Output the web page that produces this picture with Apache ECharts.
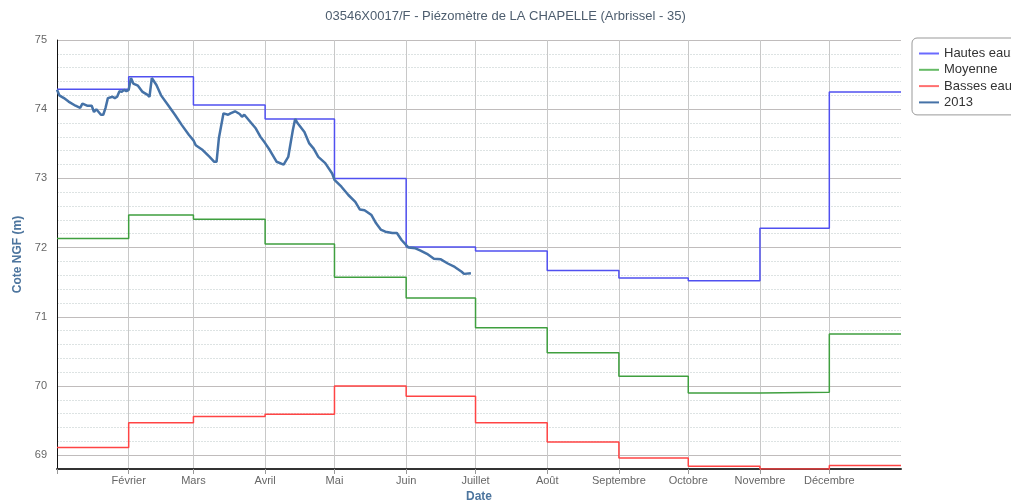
<!DOCTYPE html>
<html>
<head>
<meta charset="utf-8">
<script src="https://cdn.jsdelivr.net/npm/echarts@6/dist/echarts.min.js"></script>
<style>html,body{margin:0;padding:0;background:#fff}#c{width:1011px;height:502px}</style>
</head>
<body>
<div id="c"></div>
<script>
// ---- data ----
const monthStarts = ['2013-01-01','2013-02-01','2013-03-01','2013-04-01','2013-05-01','2013-06-01','2013-07-01','2013-08-01','2013-09-01','2013-10-01','2013-11-01','2013-12-01'];
const monthLabels = ['', 'Février','Mars','Avril','Mai','Juin','Juillet','Août','Septembre','Octobre','Novembre','Décembre'];
const yearEnd = '2014-01-01';
const hautesEaux = [74.29, 74.47, 74.06, 73.86, 73.00, 72.01, 71.95, 71.67, 71.56, 71.52, 72.28, 74.25];
const moyenne    = [72.13, 72.47, 72.41, 72.05, 71.57, 71.27, 70.84, 70.48, 70.14, 69.90, 69.91, 70.75];
const bassesEaux = [69.11, 69.47, 69.56, 69.59, 70.00, 69.85, 69.47, 69.19, 68.96, 68.84, 68.80, 68.85];
const dates2013 = ['2013-01-01','2013-01-02','2013-01-04','2013-01-06','2013-01-09','2013-01-11','2013-01-12','2013-01-14','2013-01-16','2013-01-17','2013-01-18','2013-01-20','2013-01-21','2013-01-22','2013-01-23','2013-01-25','2013-01-26','2013-01-27','2013-01-28','2013-01-29','2013-01-30','2013-01-31','2013-02-01','2013-02-02','2013-02-03','2013-02-05','2013-02-07','2013-02-09','2013-02-10','2013-02-11','2013-02-13','2013-02-15','2013-02-18','2013-02-21','2013-02-24','2013-02-27','2013-03-01','2013-03-02','2013-03-05','2013-03-08','2013-03-10','2013-03-11','2013-03-12','2013-03-14','2013-03-16','2013-03-17','2013-03-19','2013-03-21','2013-03-22','2013-03-23','2013-03-25','2013-03-28','2013-03-30','2013-04-01','2013-04-03','2013-04-06','2013-04-09','2013-04-11','2013-04-13','2013-04-14','2013-04-15','2013-04-18','2013-04-20','2013-04-22','2013-04-24','2013-04-27','2013-04-30','2013-05-01','2013-05-04','2013-05-07','2013-05-10','2013-05-12','2013-05-14','2013-05-17','2013-05-19','2013-05-21','2013-05-23','2013-05-26','2013-05-28','2013-05-30','2013-06-02','2013-06-05','2013-06-07','2013-06-10','2013-06-13','2013-06-16','2013-06-19','2013-06-22','2013-06-25','2013-06-26','2013-06-29'];
const values2013 = [74.28,74.20,74.16,74.11,74.05,74.02,74.08,74.05,74.05,73.96,74.00,73.92,73.92,74.02,74.16,74.18,74.16,74.18,74.26,74.25,74.28,74.26,74.28,74.45,74.37,74.34,74.25,74.21,74.18,74.45,74.35,74.20,74.06,73.92,73.77,73.63,73.55,73.48,73.41,73.31,73.24,73.24,73.58,73.94,73.92,73.94,73.97,73.93,73.89,73.92,73.84,73.72,73.60,73.51,73.41,73.24,73.20,73.31,73.70,73.86,73.80,73.67,73.51,73.43,73.31,73.22,73.07,72.98,72.88,72.76,72.66,72.55,72.54,72.47,72.35,72.26,72.23,72.21,72.21,72.11,72.00,71.99,71.96,71.91,71.84,71.83,71.77,71.72,71.65,71.62,71.63];
const yMajorTicks = [69, 70, 71, 72, 73, 74, 75];

// ---- build ----
const ts = d => Date.parse(d + 'T00:00:00Z');
const stepData = vals => {
  const arr = monthStarts.map((m, i) => [ts(m), vals[i]]);
  arr.push([ts(yearEnd), vals[vals.length - 1]]);
  return arr;
};
const monthTs = monthStarts.map(ts);

const chart = echarts.init(document.getElementById('c'), null, {renderer: 'canvas'});
const font = 'Liberation Sans, Arial, sans-serif';
chart.setOption({
  animation: false,
  textStyle: {fontFamily: font},
  title: {
    text: '03546X0017/F - Piézomètre de LA CHAPELLE (Arbrissel - 35)',
    left: 'center', top: 5,
    textStyle: {fontSize: 13, fontWeight: 'normal', color: '#4d5d6e', fontFamily: font}
  },
  legend: {
    orient: 'vertical', left: 912, top: 38,
    padding: [9, 30, 6, 7], itemGap: 3.3,
    borderColor: '#999', borderWidth: 1, borderRadius: 5,
    icon: 'rect', itemWidth: 20, itemHeight: 2,
    textStyle: {fontSize: 13, color: '#333', fontFamily: font},
    data: ['Hautes eaux', 'Moyenne', 'Basses eaux', '2013']
  },
  grid: {left: 57, right: 110, top: 40, bottom: 33, outerBoundsMode: 'none'},
  xAxis: {
    type: 'value',
    min: ts(monthStarts[0]), max: ts(yearEnd),
    name: 'Date', nameLocation: 'middle', nameGap: 19,
    nameTextStyle: {color: '#4d759e', fontWeight: 'bold', fontSize: 12},
    axisLine: {lineStyle: {color: '#333', width: 2}},
    axisTick: {customValues: monthTs, length: 5, lineStyle: {color: '#999'}},
    axisLabel: {
      customValues: monthTs, color: '#666', fontSize: 11, margin: 6,
      formatter: v => monthLabels[new Date(v).getUTCMonth()]
    },
    splitLine: {show: true, lineStyle: {color: '#c8c8c8', width: 1}}
  },
  yAxis: [{
    type: 'value', min: 68.8, max: 75, interval: 0.2,
    axisLine: {show: false}, axisTick: {show: false}, axisLabel: {show: false},
    splitLine: {show: true, lineStyle: {color: '#dde3e3', type: [2, 1], width: 1}}
  }, {
    type: 'value', min: 68.8, max: 75, position: 'left',
    name: 'Cote NGF (m)', nameLocation: 'middle', nameGap: 31, nameRotate: 90,
    nameTextStyle: {color: '#4d759e', fontWeight: 'bold', fontSize: 12},
    axisLine: {show: true, lineStyle: {color: '#111', width: 1}},
    axisTick: {show: false, customValues: yMajorTicks},
    axisLabel: {customValues: yMajorTicks, color: '#666', fontSize: 11, margin: 10},
    splitLine: {show: true, lineStyle: {color: '#c0bcbc', width: 1}}
  }],
  series: [
    {name: 'Hautes eaux', type: 'line', step: 'end', yAxisIndex: 1, symbol: 'none', data: stepData(hautesEaux),
     lineStyle: {color: '#5050f0', width: 1.5}, itemStyle: {color: '#6a6aff'}},
    {name: 'Moyenne', type: 'line', step: 'end', yAxisIndex: 1, symbol: 'none', data: stepData(moyenne),
     lineStyle: {color: '#3f9f3f', width: 1.5}, itemStyle: {color: '#66bb66'}},
    {name: 'Basses eaux', type: 'line', step: 'end', yAxisIndex: 1, symbol: 'none', data: stepData(bassesEaux),
     lineStyle: {color: '#ff4444', width: 1.5}, itemStyle: {color: '#ff7070'}},
    {name: '2013', type: 'line', yAxisIndex: 1, symbol: 'none', data: dates2013.map((d, i) => [ts(d), values2013[i]]),
     lineStyle: {color: '#4572a7', width: 2.5}, itemStyle: {color: '#4572a7'}}
  ]
});
</script>
</body>
</html>
